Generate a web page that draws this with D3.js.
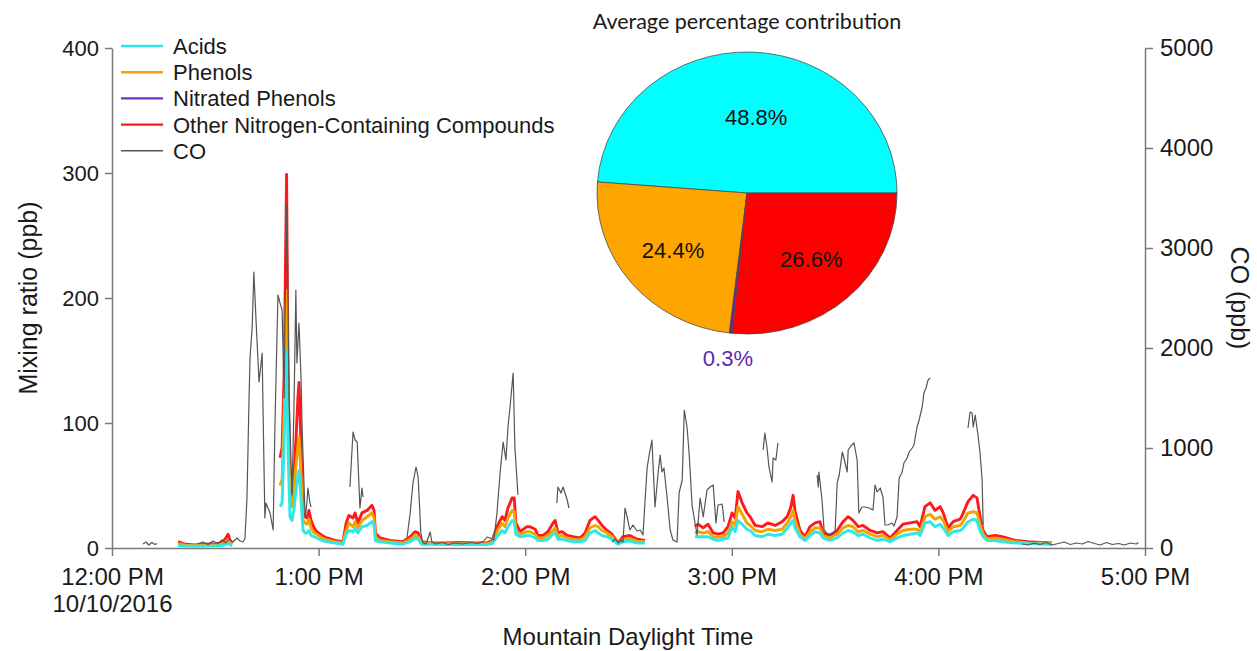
<!DOCTYPE html>
<html>
<head>
<meta charset="utf-8">
<script src="https://cdn.jsdelivr.net/npm/d3@7"></script>
<style>
  html, body { margin: 0; padding: 0; background: #fff; }
  svg { display: block; }
  text { font-family: "Liberation Sans", Arial, sans-serif; fill: #1a1a1a; }
</style>
</head>
<body>
<svg id="chart" width="1257" height="651"></svg>
<script>
// ---- Time-series data (minutes after 12:00 PM MDT, 10/10/2016); null marks a data gap ----
const vocMinutes = [
  19.2,21.2,24.1,27.0,29.9,31.9,33.1,33.7,34.3,34.9, 40,
  48.8,49.4,50.0,50.4,50.7,51.1,51.7,52.3,52.9,53.4,
  54.0,54.3,54.7,55.2,55.5,56.1,56.6,57.2,57.8,58.7,
  59.5,61.0,62.4,64.8,67.1,68.0,68.8,70.0,70.6,71.4,
  72.6,74.1,75.5,76.1,76.5,77.8,80.7,84.5,86.6,88.0,
  88.9,90.0,92.4,96.7,101.1,105.4,108.9,110.4,111.8,113.3,
  114.1,115.0,116.2,116.8,117.3,118.5,120.5,121.4,122.9,123.7,
  125.2,126.6,128.1,128.7,129.5,130.7,132.2,133.9,135.9,137.4,
  138.8,140.3,141.2,142.3,143.8,145.2,147.0,148.4,150.4,152.5,
  154.8, 162,
  169.3,170.2,171.7,173.1,174.6,176.0,177.5,178.9,180.1,181.0,
  181.8,183.0,184.4,185.3,186.8,188.8,190.5,192.6,194.6,196.1,
  197.2,197.8,198.4,199.8,201.3,202.7,204.2,205.6,206.5,208.5,
  210.6,212.3,213.8,215.2,216.7,218.1,220.2,222.2,223.9,226.0,
  228.0,229.7,231.8,233.8,234.7,236.1,237.6,239.0,240.5,241.4,
  242.8,244.3,246.3,246.9,248.6,250.1,251.2,252.1,253.0,254.1,
  256.5,258.5,262.3,266.0,269.5,273.0
];
const acids = [
  2,1.5,1.4,1.5,1.7,2,3,4,2.5,2, null,
  33,36,85,135,158,80,25,22,32,45,
  58,62,48,25,14,12,12,14,10,9,
  8,6,5,4,3,11,14,13,16,12,
  17,18,21,18,6,5,4,3,5,8,
  7,3,3,2.8,3,2.8,2.8,3.5,9,14,
  12,17,22,21,11,9,10,10,8,6,
  6,7,11,12,7,7,6,5,5,6,
  12,14,12,10,9,7,3,5,5.5,4,
  4, null,
  9,9,9,9,7,6,7,8,17,13,
  22,19,15,14,10,9,11,10,11,16,
  20,22,16,9,6,10,13,12,8,6,
  8,12,14,13,10,11,8,6,7,5,
  8,10,11,12,10,20,21,17,19,16,
  10,13,14,15,21,23,22,14,9,6,
  6,5,4,3.5,3.2,3
];
const phenols = [
  1.5,0.7,0.6,0.7,0.8,1,2,2.5,1.5,1, null,
  17,19,25,40,48,30,13,11,16,20,
  24,27,22,13,8,8,7,9,6,3,
  3,2,1.5,1,1,3,6,4,5,4,
  5,7,7,6,3,1,1,1,2,2,
  2,1,0.5,0.5,0.5,0.5,0.5,1,4,6,
  5,7,8,8,3,2,3,3,3,2,
  2,3,3,4,2,3,2,2,1.5,3,
  4,4,5,4,3,2,0.5,2,2,1.5,
  1, null,
  3,4,3,4,2,2.5,2,4,4,5,
  11,8,5,4,4,4,4,4,4,4,
  5,8,6,2,1.5,3,3,4,2,2,
  3,4,4,4,3,3,3,3,3,1.5,
  3,4,4,3,3,5,6,6,6,6,
  3,4,4,5,7,6,6,5,2,1.5,
  2,2,1,0.5,0.6,0.5
];
const nitratedPhenols = [
  0.02,0.01,0.01,0.01,0.01,0.01,0.02,0.03,0.02,0.01, null,
  0.2,0.24,0.4,0.7,0.9,0.45,0.13,0.12,0.18,0.25,
  0.36,0.4,0.3,0.15,0.08,0.08,0.07,0.09,0.07,0.05,
  0.04,0.03,0.02,0.02,0.02,0.06,0.08,0.07,0.08,0.06,
  0.08,0.09,0.1,0.09,0.04,0.02,0.02,0.02,0.03,0.04,
  0.04,0.02,0.01,0.01,0.01,0.01,0.01,0.02,0.05,0.07,
  0.07,0.1,0.12,0.12,0.06,0.04,0.05,0.05,0.05,0.03,
  0.03,0.04,0.06,0.07,0.04,0.04,0.03,0.03,0.02,0.04,
  0.07,0.08,0.07,0.05,0.04,0.03,0.01,0.03,0.03,0.02,
  0.02, null,
  0.05,0.06,0.05,0.06,0.04,0.03,0.04,0.05,0.08,0.07,
  0.14,0.11,0.08,0.08,0.05,0.05,0.06,0.05,0.06,0.08,
  0.1,0.13,0.09,0.04,0.03,0.05,0.06,0.06,0.04,0.03,
  0.04,0.06,0.08,0.07,0.05,0.05,0.04,0.04,0.04,0.02,
  0.04,0.06,0.06,0.06,0.05,0.1,0.11,0.09,0.1,0.08,
  0.05,0.06,0.07,0.08,0.11,0.13,0.12,0.08,0.04,0.03,
  0.03,0.03,0.02,0.02,0.01,0.01
];
const otherNitrogen = [
  1.5,0.8,0.5,0.8,1,1,3,4.5,2,1, null,
  22,25,30,55,92,40,6,8,12,20,
  38,43,30,12,6,5,5,7,6,4,
  2,2,1.5,1,1,6,6,7,7,4,
  6,5,6,6,3,2,1,1,2,3,
  3,1,0.5,0.7,1,0.7,0.7,1.5,4,5,
  5,8,10,11,6,2,4,4,4,2,
  2,3,6,6,3,3,2,2,1.5,3,
  6,7,5,4,2,2,0.5,2,2.5,1.5,
  1, null,
  5,6,4,6,3,2.5,3,5,7,6,
  12,9,8,7,4,4,5,4,6,5,
  8,12,7,3,1.5,4,4,5,2,2,
  3,5,7,5,4,4,3,3,3,1.5,
  3,5,5,6,4,8,9,7,8,6,
  3,4,5,6,9,13,12,6,3,1.5,
  2,2,1,1,0.7,0.5
];

const coMinutes = [
  9.0,9.9,10.7,11.6,12.5,13.1, 18,
  24.7,26.4,27.9,29.3,30.8,31.9,33.1,34.0,35.1,36.3,
  37.2,38.0,38.6,39.2,39.8,40.1,40.7,41.2,41.8,42.7,
  43.6,44.1,44.4,44.7,45.3,45.9,46.8,47.3,48.2,48.8,
  49.4,50.0,50.2,50.8,51.4,52.3,52.9,53.4,53.7,54.3,
  54.9,55.2,55.8,56.1,56.6,56.9,57.5,57.8, 63,
  69.1,70.0,70.6,71.2,72.0,72.6,72.9, 80,
  85.7,86.6,87.4,88.3,88.9,89.7,90.3,91.2,92.4,92.9,
  94.1,95.8,97.6,99.6,101.7,104.0,106.3,108.0,108.9,109.8,
  110.9,111.8,112.7,113.6,114.4,115.0,115.6,116.5,117.0,117.9, 124,
  129.2,129.5,130.4,131.0,132.2,132.7, 140,
  145.2,146.1,147.0,147.8,148.4,149.0,149.6,150.4,151.3,152.5,
  153.4,154.2,155.4,156.0,156.8,157.7,158.6,159.2,159.7,160.3,
  161.2,162.1,162.9,164.1,164.7,165.6,166.2,167.0,167.6,168.5,
  168.7,169.9,170.8,171.7,172.8,173.7,174.6,175.4,176.0,177.2,
  177.8, 184,
  189.1,189.6,190.2,190.8,191.7,192.0,192.8,193.4, 200,
  204.8,205.1,205.3,206.2,206.8,208.0,209.1,210.0,210.6,211.2,
  212.1,212.7,213.5,213.8,214.6,215.5,216.4,216.9,217.8,218.7,
  219.9,221.0,221.6,222.2,223.1,223.9,224.5,225.4,226.5,227.1,
  228.0,228.6,229.4,230.0,230.9,231.5,232.4,232.9,233.8,234.4,
  235.3,235.8,236.4,237.0,237.6, 243,
  248.6,249.2,249.8,250.1,250.7,251.2,251.5,252.1,252.7,253.0, 258,
  264.3,266.1,267.8,269.5,271.3,273.0,274.8,276.5,278.3,280.0,
  281.8,283.5,285.3,287.0,288.8,290.5,292.3,294.0,295.8,297.5,
  298.1
];
const coPpb = [
  40,60,30,55,35,45, null,
  40,60,35,70,45,80,50,90,60,100,
  70,60,90,500,1500,1910,2200,2760,2300,1660,
  1950,900,300,450,400,350,180,1200,2530,2450,
  2380,1500,2200,3450,1500,530,1500,2580,1850,2250,
  1700,1210,600,300,450,600,450,410, null,
  610,1160,1080,1060,400,600,510, null,
  110,350,650,810,710,150,50,40,160,60,
  40,55,35,50,40,55,45,70,110,100,
  80,350,750,1060,880,1210,1410,1750,1010,530, null,
  450,610,550,610,480,400, null,
  60,90,50,80,60,400,310,180,230,170,
  180,130,800,930,1080,410,750,930,760,800,
  510,180,80,60,550,680,1380,1210,950,410,
  380,130,500,310,580,610,630,250,430,440,
  260, null,
  980,1150,1010,810,660,900,880,1050, null,
  730,610,760,480,180,130,150,160,650,730,
  960,880,760,980,1020,1050,880,350,410,410,
  400,380,630,560,600,510,230,230,250,220,
  310,700,750,850,900,960,1000,1030,1210,1280,
  1410,1550,1600,1680,1700, null,
  1200,1360,1350,1210,1330,1200,1130,950,680,230, null,
  40,30,50,35,55,30,45,60,35,50,
  40,65,45,30,55,35,45,30,50,40,
  55
];

// ---- Legend / pie data ----
const seriesNames = ["Acids", "Phenols", "Nitrated Phenols", "Other Nitrogen-Containing Compounds", "CO"];
const lineColors = ["#2ee8e8", "#f5a300", "#6633cc", "#ff1a1a", "#555555"];
const pieShares = [48.8, 24.4, 0.3, 26.6];
const pieColors = ["#00ffff", "#ffa500", "#5a2ab0", "#ff0000"];

const leftTicks = [0, 100, 200, 300, 400];
const rightTicks = [0, 1000, 2000, 3000, 4000, 5000];

// ---- Layout ----
const svg = d3.select("#chart");
const plot = { left: 112, right: 1145, top: 48, bottom: 548 };
const t0 = new Date(2016, 9, 10, 12, 0);
const t1 = new Date(2016, 9, 10, 17, 0);
const toDate = m => new Date(t0.getTime() + m * 60000);

const x = d3.scaleTime().domain([t0, t1]).range([plot.left, plot.right]);
const y = d3.scaleLinear().domain([0, 400]).range([plot.bottom, plot.top]);
const y2 = d3.scaleLinear().domain([0, 5000]).range([plot.bottom, plot.top]);

// ---- Axes ----
const axisColor = "#7a7a7a";
function styleAxis(g, size) {
  g.select(".domain").attr("stroke", axisColor).attr("stroke-width", 1.5);
  g.selectAll(".tick line").attr("stroke", axisColor).attr("stroke-width", 1.5);
  g.selectAll(".tick text").attr("fill", "#1a1a1a")
    .style("font-family", "'Liberation Sans', Arial, sans-serif").style("font-size", size + "px");
}

const fmtTime = d3.timeFormat("%-I:%M %p");
const xAxis = svg.append("g")
  .attr("transform", `translate(0,${plot.bottom})`)
  .call(d3.axisBottom(x).ticks(d3.timeHour.every(1)).tickFormat(fmtTime).tickSize(8).tickSizeOuter(0).tickPadding(12));
styleAxis(xAxis, 24);
xAxis.selectAll(".tick text").attr("dy", "0.71em");
xAxis.selectAll(".tick").filter(d => +d === +t0)
  .append("text")
  .attr("fill", "#1a1a1a")
  .attr("y", 47).attr("dy", "0.71em")
  .style("font-family", "'Liberation Sans', Arial, sans-serif").style("font-size", "24px")
  .text("10/10/2016");

const yAxis = svg.append("g")
  .attr("transform", `translate(${plot.left},0)`)
  .call(d3.axisLeft(y).tickValues(leftTicks).tickSize(7).tickSizeOuter(0).tickPadding(6));
styleAxis(yAxis, 22);

const y2Axis = svg.append("g")
  .attr("transform", `translate(${plot.right},0)`)
  .call(d3.axisRight(y2).tickValues(rightTicks).tickFormat(d3.format("d"))
    .tickSize(8).tickSizeOuter(0).tickPadding(7));
styleAxis(y2Axis, 24);

// Axis titles
svg.append("text")
  .attr("transform", `translate(37,${(plot.top + plot.bottom) / 2}) rotate(-90)`)
  .attr("text-anchor", "middle")
  .style("font-size", "25px")
  .text("Mixing ratio (ppb)");
svg.append("text")
  .attr("transform", `translate(1231,${(plot.top + plot.bottom) / 2}) rotate(90)`)
  .attr("text-anchor", "middle")
  .style("font-size", "25px")
  .text("CO (ppb)");
svg.append("text")
  .attr("x", 628).attr("y", 645)
  .attr("text-anchor", "middle")
  .style("font-size", "24px")
  .text("Mountain Daylight Time");

// ---- Stacked composition lines ----
const components = [acids, phenols, nitratedPhenols, otherNitrogen];
const running = vocMinutes.map(() => 0);
const stackedLines = components.map(values => vocMinutes.map((m, i) => {
  if (values[i] == null) { running[i] = null; return { m, v: null }; }
  running[i] = (running[i] || 0) + values[i];
  return { m, v: running[i] };
}));

const vocLine = d3.line()
  .defined(d => d.v != null)
  .x(d => x(toDate(d.m)))
  .y(d => y(d.v));

// Draw the total (red) first so the lower layers stay visible on top of it
const drawOrder = [3, 2, 1, 0];
const lineG = svg.append("g");
drawOrder.forEach(k => {
  lineG.append("path")
    .datum(stackedLines[k])
    .attr("fill", "none")
    .attr("stroke", lineColors[k])
    .attr("stroke-width", k === 2 ? 1.5 : 2.9)
    .attr("stroke-linejoin", "round")
    .attr("d", vocLine);
});

// ---- CO on the right axis ----
const coData = coMinutes.map((m, i) => ({ m, v: coPpb[i] }));
const coLine = d3.line()
  .defined(d => d.v != null)
  .x(d => x(toDate(d.m)))
  .y(d => y2(d.v));
lineG.append("path")
  .datum(coData)
  .attr("fill", "none")
  .attr("stroke", lineColors[4])
  .attr("stroke-width", 1.2)
  .attr("stroke-linejoin", "round")
  .attr("d", coLine);

// ---- Legend ----
const legend = svg.append("g").attr("transform", "translate(121,46)");
seriesNames.forEach((name, i) => {
  const row = legend.append("g").attr("transform", `translate(0,${i * 26.2})`);
  row.append("line")
    .attr("x1", 0).attr("x2", 42).attr("y1", 0).attr("y2", 0)
    .attr("stroke", lineColors[i])
    .attr("stroke-width", i === 4 ? 1.4 : 2.4);
  row.append("text")
    .attr("x", 52).attr("dy", "0.36em")
    .style("font-size", "22px")
    .text(name);
});

// ---- Inset pie: average percentage contribution ----
const pieCx = 747, pieCy = 193, pieRy = 141, pieRx = 150;
svg.append("text")
  .attr("x", pieCx).attr("y", 29)
  .attr("text-anchor", "middle")
  .style("font-family", "Lato, 'Open Sans', sans-serif")
  .style("font-size", "21.5px")
  .text("Average percentage contribution");

const pie = d3.pie().sort(null).value(d => d)
  .startAngle(Math.PI / 2).endAngle(Math.PI / 2 - 2 * Math.PI);
const arcs = pie(pieShares);
const arc = d3.arc().innerRadius(0).outerRadius(pieRy);

const pieG = svg.append("g")
  .attr("transform", `translate(${pieCx},${pieCy}) scale(${pieRx / pieRy},1)`);
pieG.selectAll("path")
  .data(arcs)
  .join("path")
  .attr("d", arc)
  .attr("fill", (d, i) => pieColors[i])
  .attr("stroke", "#4a4a4a")
  .attr("stroke-width", 0.8)
  .attr("vector-effect", "non-scaling-stroke");

// Percentage labels: inside the large slices, outside the tiny one
const labelG = svg.append("g").attr("transform", `translate(${pieCx},${pieCy})`);
arcs.forEach((a, i) => {
  const small = pieShares[i] < 1;
  const r = small ? 166 : (i === 0 ? 76 : 90);
  const [lx, ly] = d3.arc().innerRadius(r).outerRadius(r).centroid(a);
  labelG.append("text")
    .attr("x", lx * pieRx / pieRy + (i === 0 ? 6 : 0)).attr("y", ly)
    .attr("text-anchor", "middle")
    .attr("dy", "0.35em")
    .style("font-size", "22px")
    .style("fill", small ? pieColors[i] : "#111")
    .text(pieShares[i].toFixed(1) + "%");
});
</script>
</body>
</html>
